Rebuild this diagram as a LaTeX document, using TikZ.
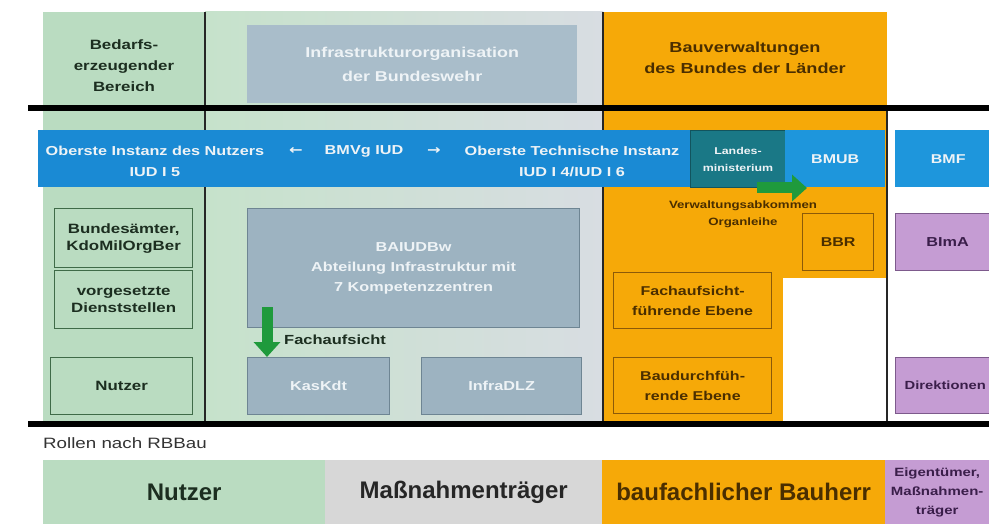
\documentclass[tikz,border=0pt]{standalone}
\usepackage{fontspec}
\setmainfont{Liberation Sans}[FakeStretch=1.25]
\newfontfamily\plainfont{Liberation Sans}
\newfontfamily\dejavu{DejaVu Sans}[FakeStretch=1.25]
\usetikzlibrary{arrows.meta}
\definecolor{grn}{HTML}{BADCC1}
\definecolor{grnL}{HTML}{C6E2CB}
\definecolor{grayR}{HTML}{D8DDE2}
\definecolor{gbox}{HTML}{9DB3C1}
\definecolor{gboxL}{HTML}{A9BDCA}
\definecolor{gboxB}{HTML}{6E8593}
\definecolor{blu}{HTML}{1A8AD4}
\definecolor{bluL}{HTML}{1E96DC}
\definecolor{teal}{HTML}{1A7886}
\definecolor{org}{HTML}{F6A908}
\definecolor{orgB}{HTML}{8C5A08}
\definecolor{orgT}{HTML}{4A2E00}
\definecolor{pur}{HTML}{C59CD3}
\definecolor{purB}{HTML}{7D5A8C}
\definecolor{purT}{HTML}{3A1E4A}
\definecolor{grnB}{HTML}{3F6B48}
\definecolor{grnT}{HTML}{1C2E20}
\definecolor{grayBot}{HTML}{D7D7D7}
\definecolor{arrowgrn}{HTML}{1F9A3C}
\definecolor{wtxt}{HTML}{EEF3F6}
\tikzset{
  x=1pt, y=-1pt,
  base/.style={anchor=north west, align=center, inner sep=1pt, font=\bfseries},
  greenbox/.style={base, draw=grnB, line width=1.3pt, fill=grn, text=grnT, font=\bfseries\fontsize{13.5}{17}\selectfont},
  graybox/.style={base, draw=gboxB, line width=1.3pt, fill=gbox, text=wtxt, font=\bfseries\fontsize{13}{20}\selectfont},
  orangebox/.style={base, draw=orgB, line width=1.3pt, fill=org, text=orgT, font=\bfseries\fontsize{12.8}{20}\selectfont},
  purplebox/.style={base, draw=purB, line width=1.3pt, fill=pur, text=purT, font=\bfseries\fontsize{13}{15}\selectfont},
  bluetext/.style={text=wtxt, align=center, inner sep=0pt, font=\bfseries\fontsize{13}{21}\selectfont},
  heading/.style={align=center, inner sep=0pt, text=grnT, font=\bfseries\fontsize{13.5}{21}\selectfont},
  rolebox/.style={base, minimum height=64, font=\plainfont\bfseries\fontsize{24}{26}\selectfont},
  fatarrow/.style={draw=arrowgrn, line width=11pt, -{Triangle[length=15pt, width=26pt]}},
  sepline/.style={draw=black, line width=6.5pt},
  vline/.style={draw=black!85, line width=2.2pt}
}
\begin{document}
\begin{tikzpicture}
\useasboundingbox (0,0) rectangle (989,524);
\fill[white] (0,0) rectangle (989,524);
% column backgrounds
\fill[grn] (43,12) rectangle (205,425);
\shade[left color=grnL, right color=grayR] (205,12) rectangle (603,425);
\fill[org] (603,12) rectangle (887,278);
\fill[org] (603,278) rectangle (783,425);
% column lines (below the blue bar)
\draw[vline] (205,12) -- (205,425);
\draw[vline, line width=2.8pt] (603,12) -- (603,425);
\draw[vline, line width=2.8pt] (887,108) -- (887,425);
% header nodes
\node[heading] (bedarf) at (124,66) {Bedarfs-\\erzeugender\\Bereich};
\node[base, fill=gboxL, minimum width=330, minimum height=78, text=wtxt, font=\bfseries\fontsize{14.3}{24}\selectfont] (infra) at (247,25) {Infrastrukturorganisation\\der Bundeswehr};
\node[heading, text=orgT, font=\bfseries\fontsize{14.5}{21}\selectfont] (bauverw) at (745,58) {Bauverwaltungen\\des Bundes der Länder};
% blue bar
\fill[blu] (38,130) rectangle (690,187);
\node[anchor=north west, fill=teal, draw=teal!70!black, line width=1pt, minimum width=95, minimum height=57, inner sep=0pt, text=wtxt, align=center, font=\bfseries\fontsize{9.9}{17}\selectfont] (lmin) at (690,130) {Landes-\\ministerium};
\node[anchor=north west, fill=bluL, minimum width=100, minimum height=57, inner sep=0pt, text=wtxt, font=\bfseries\fontsize{12.8}{14}\selectfont] (bmub) at (785,130) {BMUB};
\node[anchor=north west, fill=bluL, minimum width=106, minimum height=57, inner sep=0pt, text=wtxt, font=\bfseries\fontsize{12.8}{14}\selectfont] (bmf) at (895,130) {BMF};
\node[bluetext] (obnutz) at (155,161) {Oberste Instanz des Nutzers\\IUD I 5};
\node[bluetext] (larr) at (296,151) {\dejavu\bfseries ←};
\node[bluetext] (bmvg) at (364,151) {BMVg IUD};
\node[bluetext] (rarr) at (434,151) {\dejavu\bfseries →};
\node[bluetext] (obtech) at (572,161) {Oberste Technische Instanz\\IUD I 4/IUD I 6};
% left column boxes
\node[greenbox, minimum width=138, minimum height=59] (bund) at (54,208) {Bundesämter,\\KdoMilOrgBer};
\node[greenbox, minimum width=138, minimum height=58] (vorg) at (54,270) {vorgesetzte\\Dienststellen};
\node[greenbox, minimum width=142, minimum height=57] (nutz) at (50,357) {Nutzer};
% middle column boxes
\node[graybox, minimum width=332, minimum height=119] (baiud) at (247,208) {BAIUDBw\\Abteilung Infrastruktur mit\\7 Kompetenzzentren};
\node[graybox, minimum width=142, minimum height=57] (kas) at (247,357) {KasKdt};
\node[graybox, minimum width=160, minimum height=57] (dlz) at (421,357) {InfraDLZ};
\coordinate (fa1) at (267,307);
\coordinate (fa2) at (267,357);
\draw[fatarrow] (fa1) -- (fa2);
\node[anchor=west, inner sep=0pt, text=grnT, font=\bfseries\fontsize{13.2}{15}\selectfont] (fach) at (284,340) {Fachaufsicht};
% orange column
\node[align=center, inner sep=0pt, text=orgT, font=\bfseries\fontsize{10.6}{17}\selectfont] (verw) at (743,214) {Verwaltungsabkommen\\Organleihe};
\node[orangebox, minimum width=71, minimum height=57] (bbr) at (802,213) {BBR};
\node[orangebox, minimum width=158, minimum height=56] (fachf) at (613,272) {Fachaufsicht-\\führende Ebene};
\node[orangebox, minimum width=158, minimum height=56] (baud) at (613,357) {Baudurchfüh-\\rende Ebene};
\coordinate (ga1) at (757,188);
\coordinate (ga2) at (807,188);
\draw[fatarrow] (ga1) -- (ga2);
% right column
\node[purplebox, minimum width=104, minimum height=57] (bima) at (895,213) {BImA};
\node[purplebox, minimum width=104, minimum height=56, anchor=north west, align=left, text width=86, font=\bfseries\fontsize{11.8}{15}\selectfont] (dir) at (895,357) {Direktionen};
% separator lines
\draw[sepline] (28,108) -- (989,108);
\draw[sepline] (28,424) -- (989,424);
% roles
\node[anchor=west, inner sep=0pt, text=black!80, font=\fontsize{15}{17}\selectfont] (rollen) at (43,443) {Rollen nach RBBau};
\node[rolebox, fill=grn, text=grnT, minimum width=282] (rnutz) at (43,460) {Nutzer};
\node[rolebox, fill=grayBot, text=black!85, minimum width=277] (rmass) at (325,460) {Maßnahmenträger};
\node[rolebox, fill=org, text=orgT, minimum width=283] (rbau) at (602,460) {baufachlicher Bauherr};
\node[rolebox, fill=pur, text=purT, minimum width=104, font=\bfseries\fontsize{12}{19}\selectfont] (reig) at (885,460) {Eigentümer,\\Maßnahmen-\\träger};
\end{tikzpicture}
\end{document}
